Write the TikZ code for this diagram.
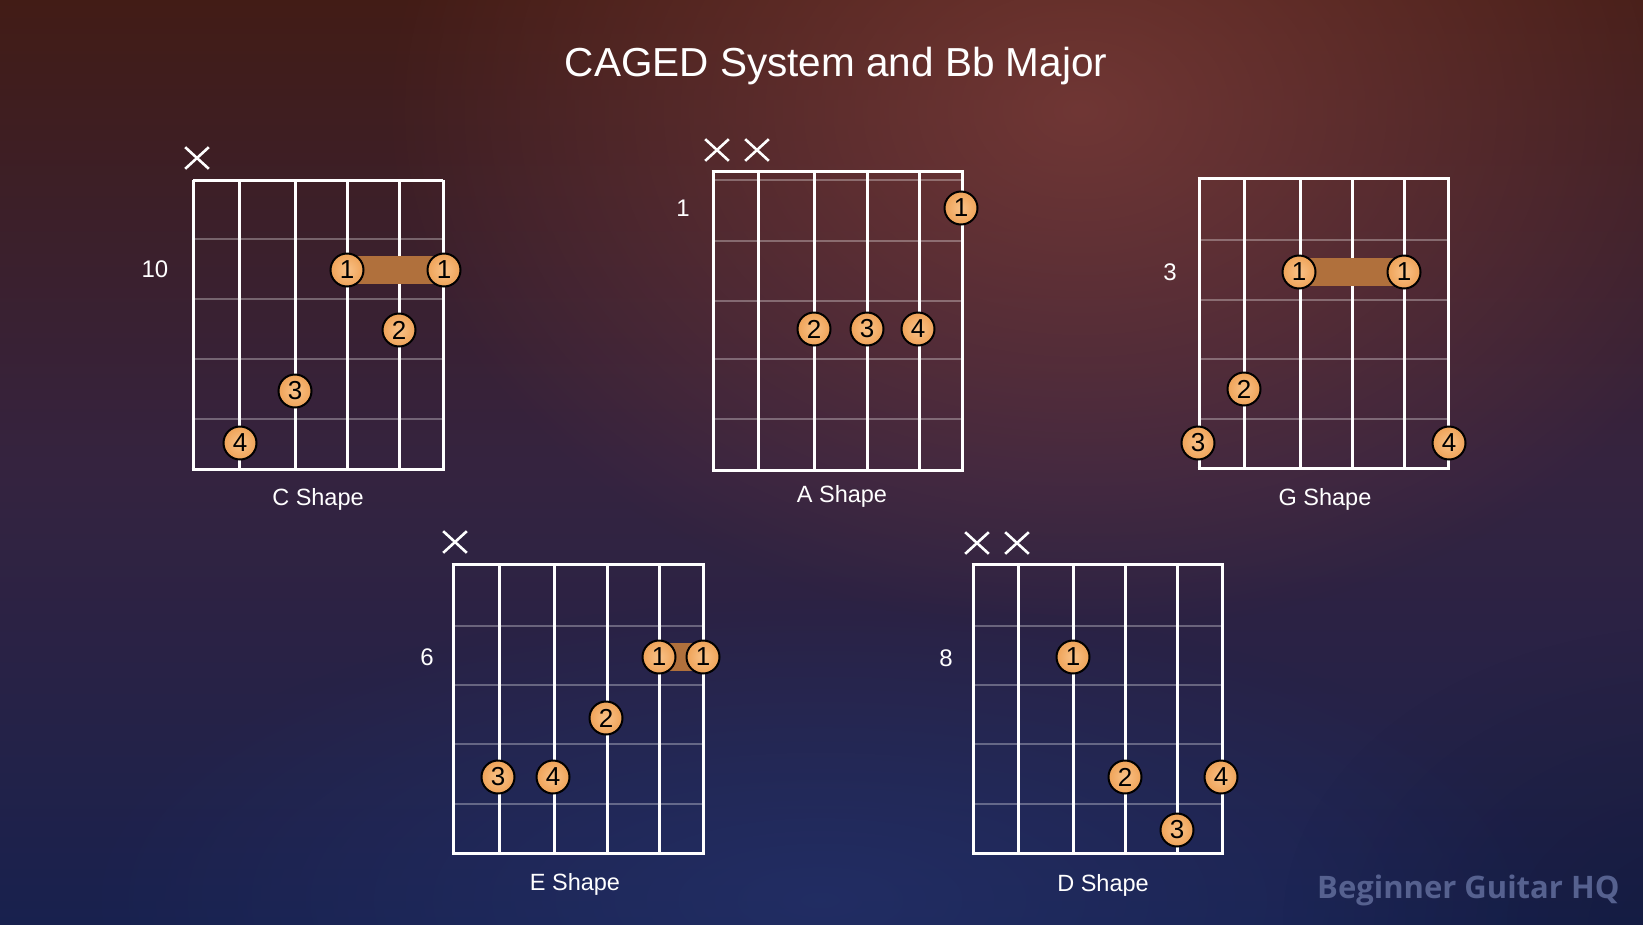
\documentclass[tikz,border=0pt]{standalone}
\usepackage{fontspec}
\setmainfont{Liberation Sans}
\newfontfamily\wmfont{Open Sans}
\usetikzlibrary{shapes.misc,fadings}
\definecolor{bgtop}{HTML}{421C16}
\definecolor{bgmid}{HTML}{35233F}
\definecolor{bgbot}{HTML}{18214E}
\definecolor{glowc}{HTML}{8A4440}
\definecolor{blueglow}{HTML}{26346F}
\definecolor{dotin}{HTML}{F9C288}
\definecolor{dotout}{HTML}{EFA358}
\definecolor{barrec}{HTML}{B0703C}
\definecolor{wmc}{HTML}{56618F}
\tikzfading[name=glowfade, inner color=transparent!35, outer color=transparent!100]
\tikzset{
  str/.style={draw=white, line width=3pt},
  fretln/.style={draw=white, draw opacity=0.3, line width=2pt},
  fdot/.style={circle, draw=black, line width=2pt, inner color=dotin, outer color=dotout, minimum size=33pt, inner sep=0pt, font=\fontsize{26}{26}\selectfont, text=black},
  barre/.style={fill=barrec},
  xmark/.style={cross out, draw=white, line width=2.6pt, minimum width=21pt, minimum height=19pt, inner sep=0pt},
  fretnum/.style={text=white, font=\fontsize{24}{24}\selectfont},
  cname/.style={text=white, font=\fontsize{23.5}{23.5}\selectfont},
}
\begin{document}
\begin{tikzpicture}[x=1pt,y=-1pt]
\useasboundingbox (0,0) rectangle (1643,924);
% background
\shade[top color=bgtop, bottom color=bgbot, middle color=bgmid] (0,0) rectangle (1643,924);
\fill[glowc, path fading=glowfade] (1080,110) ellipse (700 and 520);
\fill[blueglow, path fading=glowfade] (820,900) ellipse (750 and 300);
\begin{scope}
\clip (0,0) rectangle (1643,924);
\fill[black, opacity=0.25, path fading=glowfade] (1700,924) ellipse (420 and 300);
\end{scope}

% title
\node[text=white, font=\fontsize{40.5}{40.5}\selectfont] (title) at (836,66) {CAGED System and Bb Major};

% ---------- C shape ----------
\foreach \y in {239,299,359,419} \draw[fretln] (193,\y) -- (443,\y);
\foreach \x in {193,239,295,347,399,443} \draw[str] (\x,180) -- (\x,469);
\draw[str] (193,180) -- (443,180);
\draw[str] (191.5,469) -- (444.5,469);
\node[xmark] (cx1) at (197,158) {};
\node[fretnum] (cfn) at (155,269) {10};
\node[cname] (cnm) at (318,499) {C Shape};
\fill[barre] (347,256) rectangle (443,284);
\node[fdot] (c1a) at (347,270) {1};
\node[fdot] (c1b) at (444,270) {1};
\node[fdot] (c2) at (399,330) {2};
\node[fdot] (c3) at (295,391) {3};
\node[fdot] (c4) at (240,443) {4};

% ---------- A shape ----------
\foreach \y in {180,241,301,359,419} \draw[fretln] (713,\y) -- (962,\y);
\foreach \x in {713,758,814,867,919,962} \draw[str] (\x,171) -- (\x,470);
\draw[str] (711.5,171) -- (963.5,171);
\draw[str] (711.5,470) -- (963.5,470);
\node[xmark] (ax1) at (717,150) {};
\node[xmark] (ax2) at (757,150) {};
\node[fretnum] (afn) at (683,208) {1};
\node[cname] (anm) at (842,496) {A Shape};
\node[fdot] (a1) at (961,208) {1};
\node[fdot] (a2) at (814,329) {2};
\node[fdot] (a3) at (867,329) {3};
\node[fdot] (a4) at (918,329) {4};

% ---------- G shape ----------
\foreach \y in {240,300,359,419} \draw[fretln] (1199,\y) -- (1448,\y);
\foreach \x in {1199,1244,1300,1352,1404,1448} \draw[str] (\x,178) -- (\x,468);
\draw[str] (1197.5,178) -- (1449.5,178);
\draw[str] (1197.5,468) -- (1449.5,468);
\node[fretnum] (gfn) at (1170,272) {3};
\node[cname] (gnm) at (1325,499) {G Shape};
\fill[barre] (1299,258) rectangle (1404,286);
\node[fdot] (g1a) at (1299,272) {1};
\node[fdot] (g1b) at (1404,272) {1};
\node[fdot] (g2) at (1244,389) {2};
\node[fdot] (g3) at (1198,443) {3};
\node[fdot] (g4) at (1449,443) {4};

% ---------- E shape ----------
\foreach \y in {626,685,744,804} \draw[fretln] (453,\y) -- (703,\y);
\foreach \x in {453,499,554,607,659,703} \draw[str] (\x,564) -- (\x,853);
\draw[str] (451.5,564) -- (704.5,564);
\draw[str] (451.5,853) -- (704.5,853);
\node[xmark] (ex1) at (455,542) {};
\node[fretnum] (efn) at (427,657) {6};
\node[cname] (enm) at (575,884) {E Shape};
\fill[barre] (659,643) rectangle (703,671);
\node[fdot] (e1a) at (659,657) {1};
\node[fdot] (e1b) at (703,657) {1};
\node[fdot] (e2) at (606,718) {2};
\node[fdot] (e3) at (498,777) {3};
\node[fdot] (e4) at (553,777) {4};

% ---------- D shape ----------
\foreach \y in {626,685,744,804} \draw[fretln] (973,\y) -- (1222,\y);
\foreach \x in {973,1018,1073,1125,1177,1222} \draw[str] (\x,564) -- (\x,853);
\draw[str] (971.5,564) -- (1223.5,564);
\draw[str] (971.5,853) -- (1223.5,853);
\node[xmark] (dx1) at (977,543) {};
\node[xmark] (dx2) at (1017,543) {};
\node[fretnum] (dfn) at (946,658) {8};
\node[cname] (dnm) at (1103,885) {D Shape};
\node[fdot] (d1) at (1073,657) {1};
\node[fdot] (d2) at (1125,777) {2};
\node[fdot] (d4) at (1221,777) {4};
\node[fdot] (d3) at (1177,830) {3};

% watermark
\node[text=wmc, font=\wmfont\bfseries\fontsize{31}{31}\selectfont, anchor=east] (wm) at (1623,890) {Beginner Guitar HQ};
\end{tikzpicture}
\end{document}
